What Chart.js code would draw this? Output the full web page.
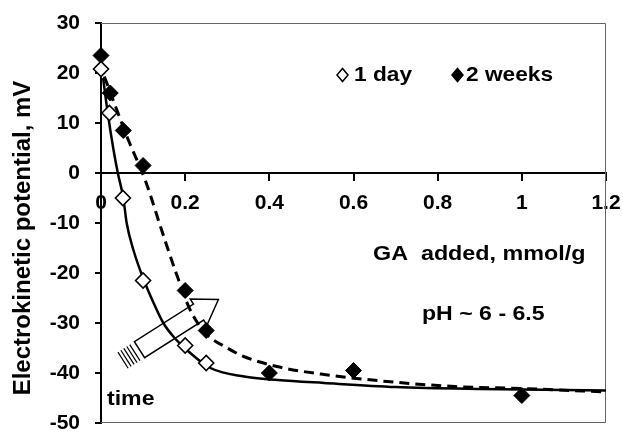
<!DOCTYPE html>
<html><head><meta charset="utf-8">
<script src="https://cdn.jsdelivr.net/npm/chart.js@4/dist/chart.umd.min.js"></script>
<style>html,body{margin:0;padding:0;background:#fff;overflow:hidden}</style>
</head><body>
<canvas id="c" width="623" height="433" style="width:623px;height:433px;display:block"></canvas>
<script>
// ---- data ----
const oneDayX = [0, 0.02, 0.052, 0.1, 0.2, 0.25];
const oneDayY = [20.8, 12, -5, -21.5, -34.5, -38];
const twoWeeksX = [0, 0.022, 0.053, 0.1, 0.2, 0.25, 0.4, 0.6, 1.0];
const twoWeeksY = [23.5, 16, 8.5, 1.5, -23.5, -31.5, -40, -39.5, -44.5];
// fitted curves
const fitDayX = [0.005, 0.016, 0.03, 0.04, 0.053, 0.061, 0.077, 0.1, 0.125, 0.148, 0.175, 0.204, 0.26, 0.34, 0.42, 0.53, 0.7, 0.9, 1.2];
const fitDayY = [19, 12, 4.5, 0, -5, -10, -15.4, -21, -26, -30, -33, -35.4, -39, -40.7, -41.4, -42, -42.8, -43.2, -43.5];
const fitWeekX = [0.008, 0.03, 0.065, 0.105, 0.144, 0.176, 0.212, 0.248, 0.3, 0.339, 0.418, 0.53, 0.68, 0.84, 1.0, 1.2];
const fitWeekY = [19.3, 14.3, 6.6, -1.4, -11.4, -19.4, -27.4, -32, -35, -36.7, -38.7, -40.3, -41.7, -42.7, -43.1, -43.8];
const xTickLabels = ['0', '0.2', '0.4', '0.6', '0.8', '1', '1.2'];
const yTickLabels = ['-50', '-40', '-30', '-20', '-10', '0', '10', '20', '30'];
const seriesNames = ['1 day', '2 weeks'];
const arrowTip = {x: 0.279, y: -25.3};

const pts = (xs, ys) => xs.map((x, i) => ({x, y: ys[i]}));
const FONT = "'Liberation Sans', Arial, sans-serif";

function stretchText(ctx, txt, x, y, size, sx) {
  ctx.save();
  ctx.font = 'bold ' + size + 'px ' + FONT;
  ctx.fillStyle = '#000';
  ctx.textBaseline = 'alphabetic';
  ctx.textAlign = 'left';
  ctx.translate(x, y);
  ctx.scale(sx, 1);
  ctx.fillText(txt, 0, 0);
  ctx.restore();
}
function diamond(ctx, cx, cy, hw, hh, filled) {
  ctx.beginPath();
  ctx.moveTo(cx - hw, cy); ctx.lineTo(cx, cy - hh); ctx.lineTo(cx + hw, cy); ctx.lineTo(cx, cy + hh); ctx.closePath();
  if (filled) { ctx.fillStyle = '#000'; ctx.fill(); }
  else { ctx.fillStyle = '#fff'; ctx.fill(); }
  ctx.lineWidth = 1.5; ctx.strokeStyle = '#000'; ctx.stroke();
}

const decor = {
  id: 'decor',
  beforeDatasetsDraw(chart) {
    const {ctx, chartArea: a} = chart;
    ctx.save();
    ctx.strokeStyle = '#666'; ctx.lineWidth = 1;
    ctx.beginPath();
    ctx.moveTo(a.left, a.top + 0.5); ctx.lineTo(a.right - 0.5, a.top + 0.5);
    ctx.lineTo(a.right - 0.5, a.bottom - 0.5); ctx.lineTo(a.left, a.bottom - 0.5);
    ctx.stroke();
    ctx.restore();
  },
  afterDatasetsDraw(chart) {
    const {ctx, scales} = chart;
    // hollow arrow ("time")
    const tx = scales.x.getPixelForValue(arrowTip.x), ty = scales.y.getPixelForValue(arrowTip.y);
    const ux = 0.844, uy = -0.537, nx = 0.537, ny = 0.844;
    const P = (d, w) => [tx - ux * d + nx * w, ty - uy * d + ny * w];
    const headL = 23.5, headW = 15.5, shaftW = 9.5, shaftEnd = 93.5;
    const poly = [P(0, 0), P(headL, headW), P(headL, shaftW), P(shaftEnd, shaftW), P(shaftEnd, -shaftW), P(headL, -shaftW), P(headL, -headW)];
    ctx.save();
    ctx.strokeStyle = '#000'; ctx.lineWidth = 1.5; ctx.lineJoin = 'miter';
    ctx.beginPath();
    poly.forEach((p, i) => i ? ctx.lineTo(p[0], p[1]) : ctx.moveTo(p[0], p[1]));
    ctx.closePath(); ctx.stroke();
    ctx.lineWidth = 1.2;
    [99, 102.5, 106, 109.5, 113].forEach(d => {
      const a = P(d, shaftW), b = P(d, -shaftW);
      ctx.beginPath(); ctx.moveTo(a[0], a[1]); ctx.lineTo(b[0], b[1]); ctx.stroke();
    });
    ctx.restore();
  },
  afterDraw(chart) {
    const {ctx} = chart;
    // legend inside plot
    diamond(ctx, 342.5, 75, 5.5, 6.5, false);
    stretchText(ctx, seriesNames[0], 354, 81, 21, 1.08);
    diamond(ctx, 457.5, 75, 5.5, 6.5, true);
    stretchText(ctx, seriesNames[1], 466, 81, 21, 1.08);
    // annotations
    stretchText(ctx, 'GA  added, mmol/g', 373, 260, 21, 1.11);
    stretchText(ctx, 'pH ~ 6 - 6.5', 422, 320, 21, 1.1);
    stretchText(ctx, 'time', 107, 405, 21, 1.1);
    // y title
    ctx.save();
    ctx.font = 'bold 24px ' + FONT;
    ctx.fillStyle = '#000';
    ctx.textAlign = 'center'; ctx.textBaseline = 'middle';
    ctx.translate(23, 238); ctx.rotate(-Math.PI / 2);
    ctx.fillText('Electrokinetic potential, mV', 0, 0);
    ctx.restore();
  }
};

new Chart(document.getElementById('c'), {
  type: 'scatter',
  data: {
    datasets: [
      {label: seriesNames[0], data: pts(oneDayX, oneDayY), pointStyle: 'rectRot', pointRadius: 7.5, clip: false,
       pointBackgroundColor: '#fff', pointBorderColor: '#000', pointBorderWidth: 1.6, showLine: false},
      {label: seriesNames[1], data: pts(twoWeeksX, twoWeeksY), pointStyle: 'rectRot', pointRadius: 8, clip: false,
       pointBackgroundColor: '#000', pointBorderColor: '#000', pointBorderWidth: 1, showLine: false},
      {label: 'fit 1 day', type: 'line', data: pts(fitDayX, fitDayY), borderColor: '#000', borderWidth: 2.5,
       pointRadius: 0, fill: false, cubicInterpolationMode: 'monotone'},
      {label: 'fit 2 weeks', type: 'line', data: pts(fitWeekX, fitWeekY), borderColor: '#000', borderWidth: 3,
       borderDash: [10, 6], pointRadius: 0, fill: false, cubicInterpolationMode: 'monotone'}
    ]
  },
  options: {
    responsive: false,
    animation: false,
    devicePixelRatio: 1,
    layout: {padding: {left: 0, top: 23, right: 17, bottom: 10}},
    plugins: {legend: {display: false}, tooltip: {enabled: false}},
    scales: {
      x: {
        type: 'linear', min: 0, max: 1.2, position: {y: 0},
        ticks: {stepSize: 0.2, padding: 11, color: '#000', font: {family: FONT, size: 21, weight: 'bold'},
                maxRotation: 0, autoSkip: false, callback: (v, i) => xTickLabels[i]},
        grid: {drawOnChartArea: false, drawTicks: true, tickLength: 7, color: '#000', lineWidth: 2},
        border: {color: '#000', width: 2},
        afterFit: s => { s.height = 0; s.paddingLeft = 0; s.paddingRight = 0; }
      },
      y: {
        type: 'linear', min: -50, max: 30, position: 'left',
        ticks: {stepSize: 10, padding: 15, color: '#000', font: {family: FONT, size: 21, weight: 'bold'},
                callback: (v, i) => yTickLabels[i]},
        grid: {drawOnChartArea: false, drawTicks: true, tickLength: 6, color: '#000', lineWidth: 2},
        border: {color: '#000', width: 2},
        afterFit: s => { s.width = 101; s.paddingTop = 0; s.paddingBottom = 0; }
      }
    }
  },
  plugins: [decor]
});
</script>
</body></html>
